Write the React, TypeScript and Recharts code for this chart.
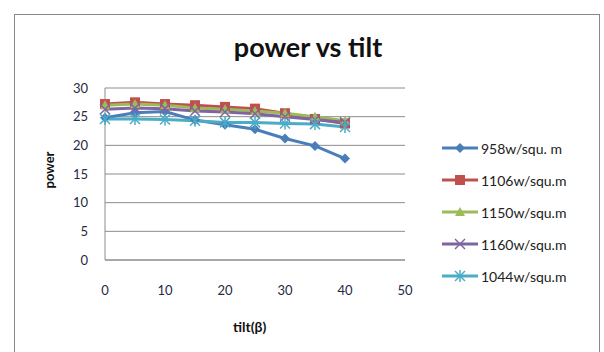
import { LineChart, Line, XAxis, YAxis, CartesianGrid } from 'recharts'

const tilt = [0, 5, 10, 15, 20, 25, 30, 35, 40]
const s958 = [24.8, 25.7, 25.9, 24.4, 23.6, 22.8, 21.2, 19.9, 17.7]
const s1106 = [27.2, 27.5, 27.2, 27, 26.7, 26.4, 25.6, 24.6, 23.8]
const s1150 = [27, 27.2, 27, 26.5, 26.3, 26, 25.6, 25, 24.3]
const s1160 = [26.3, 26.5, 26.4, 26, 25.8, 25.5, 25, 24.5, 24]
const s1044 = [24.6, 24.6, 24.5, 24.3, 24, 24, 23.8, 23.7, 23.2]
const xTicks = [0, 10, 20, 30, 40, 50]
const yTicks = [0, 5, 10, 15, 20, 25, 30]

const data = tilt.map((t, i) => ({
  tilt: t,
  a: s958[i],
  b: s1106[i],
  c: s1150[i],
  d: s1160[i],
  e: s1044[i],
}))

type Kind = 'diamond' | 'square' | 'triangle' | 'cross' | 'star'

function Marker({ cx, cy, kind, color }: { cx: number; cy: number; kind: Kind; color: string }) {
  if (cx == null || cy == null) return null
  if (kind === 'diamond') {
    const r = 5
    return <polygon points={`${cx},${cy - r} ${cx + r},${cy} ${cx},${cy + r} ${cx - r},${cy}`} fill={color} />
  }
  if (kind === 'square') {
    return <rect x={cx - 5} y={cy - 5} width={10} height={10} fill={color} />
  }
  if (kind === 'triangle') {
    return <polygon points={`${cx},${cy - 5} ${cx + 5},${cy + 4} ${cx - 5},${cy + 4}`} fill={color} />
  }
  if (kind === 'cross') {
    return (
      <g stroke={color} strokeWidth={1.5}>
        <line x1={cx - 5} y1={cy - 5} x2={cx + 5} y2={cy + 5} />
        <line x1={cx - 5} y1={cy + 5} x2={cx + 5} y2={cy - 5} />
      </g>
    )
  }
  return (
    <g stroke={color} strokeWidth={1.5}>
      <line x1={cx - 5} y1={cy - 5} x2={cx + 5} y2={cy + 5} />
      <line x1={cx - 5} y1={cy + 5} x2={cx + 5} y2={cy - 5} />
      <line x1={cx} y1={cy - 6} x2={cx} y2={cy + 6} />
    </g>
  )
}

const series: { key: string; name: string; color: string; kind: Kind }[] = [
  { key: 'a', name: '958w/squ. m', color: '#4a7ebb', kind: 'diamond' },
  { key: 'b', name: '1106w/squ.m', color: '#c0504d', kind: 'square' },
  { key: 'c', name: '1150w/squ.m', color: '#9bbb59', kind: 'triangle' },
  { key: 'd', name: '1160w/squ.m', color: '#8064a2', kind: 'cross' },
  { key: 'e', name: '1044w/squ.m', color: '#4bacc6', kind: 'star' },
]

const font = 'Lato, "Open Sans", sans-serif'

function LegendBox() {
  return (
    <div style={{ position: 'absolute', left: 440, top: 132, fontFamily: font, fontSize: 14, color: '#222' }}>
      {series.map((s) => (
        <div key={s.key} style={{ display: 'flex', alignItems: 'center', height: 32 }}>
          <svg width={40} height={14}>
            <line x1={2} y1={7} x2={38} y2={7} stroke={s.color} strokeWidth={3} />
            <Marker cx={20} cy={7} kind={s.kind} color={s.color} />
          </svg>
          <span style={{ marginLeft: 1 }}>{s.name}</span>
        </div>
      ))}
    </div>
  )
}

export default function App() {
  return (
    <div style={{ position: 'absolute', left: 0, top: 0, width: 604, height: 352, background: '#fff', overflow: 'hidden' }}>
      <div style={{ position: 'absolute', left: 14, top: 14, width: 586, height: 400, border: '1px solid #888', boxSizing: 'border-box' }} />
      <div style={{ position: 'absolute', left: 0, width: 604, top: 30, textAlign: 'center', fontFamily: font, fontWeight: 'bold', fontSize: 27, color: '#111', paddingLeft: 6 }}>
        power vs tilt
      </div>
      <div style={{ position: 'absolute', left: 31, top: 162, transform: 'rotate(-90deg)', fontFamily: font, fontWeight: 'bold', fontSize: 13, color: '#111' }}>
        power
      </div>
      <div style={{ position: 'absolute', left: 233, top: 318, fontFamily: font, fontWeight: 'bold', fontSize: 14, color: '#111' }}>
        tilt(β)
      </div>
      <LineChart width={604} height={352} data={data} margin={{ top: 88, right: 199, bottom: 62, left: 0 }} style={{ position: 'absolute', left: 0, top: 0 }}>
        <CartesianGrid vertical={false} stroke="#8c8c8c" />
        <XAxis
          dataKey="tilt"
          type="number"
          domain={[0, 50]}
          ticks={xTicks}
          tickLine={false}
          stroke="#8c8c8c"
          height={30}
          tickMargin={20}
          tick={{ fontFamily: font, fontSize: 13, fill: '#1f2a44' }}
        />
        <YAxis
          domain={[0, 30]}
          ticks={yTicks}
          width={105}
          tickLine={false}
          stroke="#8c8c8c"
          tickMargin={11}
          tick={{ fontFamily: font, fontSize: 13, fill: '#1f2a44' }}
        />
        {series.map((s) => (
          <Line
            key={s.key}
            dataKey={s.key}
            name={s.name}
            stroke={s.color}
            strokeWidth={3}
            isAnimationActive={false}
            dot={(p: any) => <Marker key={`${s.key}-${p.index}`} cx={p.cx} cy={p.cy} kind={s.kind} color={s.color} />}
          />
        ))}
      </LineChart>
      <LegendBox />
    </div>
  )
}
